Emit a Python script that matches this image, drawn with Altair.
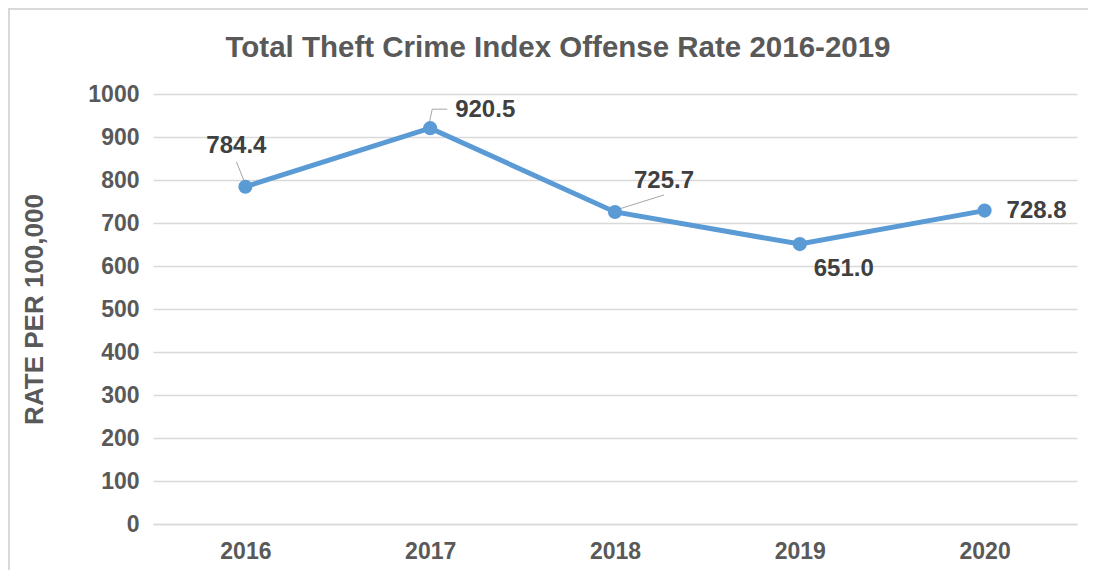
import altair as alt
import pandas as pd

years = ["2016", "2017", "2018", "2019", "2020"]
rates = [784.4, 920.5, 725.7, 651.0, 728.8]
label_text = ["784.4", "920.5", "725.7", "651.0", "728.8"]
y_ticks = [0, 100, 200, 300, 400, 500, 600, 700, 800, 900, 1000]

df = pd.DataFrame({"year": years, "rate": rates, "label": label_text})

FONT = "Liberation Sans"
LINE = "#5B9BD5"
GRID = "#d9d9d9"

xs = alt.Scale(type="point", padding=0.5)
x_enc = alt.X("year:N", sort=years, scale=xs,
              axis=alt.Axis(title=None, labelFont=FONT, labelFontSize=23,
                            labelFontWeight="bold", labelColor="#595959",
                            labelPadding=16, ticks=False, domain=True,
                            domainColor=GRID, domainWidth=1.5, grid=False,
                            labelAngle=0))
y_enc = alt.Y("rate:Q", scale=alt.Scale(domain=[0, 1000], nice=False),
              axis=alt.Axis(values=y_ticks, format="d", title="RATE PER 100,000",
                            titleFont=FONT, titleFontSize=26, titleFontWeight="bold",
                            titleColor="#595959", titlePadding=40,
                            labelFont=FONT, labelFontSize=23, labelFontWeight="bold",
                            labelColor="#595959", labelPadding=14,
                            ticks=False, domain=False, grid=True,
                            gridColor=GRID, gridWidth=1.5))

base = alt.Chart(df)
one = base.transform_filter(alt.datum.year == "2016")

border = one.mark_rect(fill="transparent", stroke=GRID, strokeWidth=2).encode(
    x=alt.value(-144), x2=alt.value(960), y=alt.value(-85), y2=alt.value(520))

line = base.mark_line(color=LINE, strokeWidth=5).encode(x=x_enc, y=y_enc)
points = base.mark_circle(color=LINE, opacity=1, size=200).encode(x=x_enc, y=y_enc)

label_offsets = {
    "2016": (-9, -41),
    "2017": (55, -18),
    "2018": (49, -31),
    "2019": (44, 25),
    "2020": (52, 0),
}
texts = []
for yr, (dx, dy) in label_offsets.items():
    texts.append(
        base.mark_text(font=FONT, fontSize=24, fontWeight="bold", color="#404040",
                       align="center", baseline="middle", dx=dx, dy=dy)
        .encode(x=alt.X("year:N", sort=years, scale=xs),
                y=alt.Y("rate:Q"), text="label:N")
        .transform_filter(alt.datum.year == yr)
    )

leaders_spec = [
    ("2016", -1, -5, -9, -25),
    ("2017", -1, -5, 2, -19),
    ("2017", 2, -19, 17, -19),
    ("2018", 1, -2, 49, -17),
]
leaders = []
for yr, xo, yo, x2o, y2o in leaders_spec:
    leaders.append(
        base.mark_rule(color="#a6a6a6", strokeWidth=1,
                       xOffset=xo, yOffset=yo, x2Offset=x2o, y2Offset=y2o)
        .encode(x=alt.X("year:N", sort=years, scale=xs),
                x2="year:N", y="rate:Q", y2="rate:Q")
        .transform_filter(alt.datum.year == yr)
    )

chart = alt.layer(border, line, *leaders, points, *texts).properties(
    width=924, height=430,
    autosize=alt.AutoSizeParams(type="none"),
    padding={"left": 145, "top": 86, "right": 11, "bottom": 46},
    title=alt.TitleParams(
        "Total Theft Crime Index Offense Rate 2016-2019",
        font=FONT, fontSize=29.5, fontWeight="bold", color="#595959",
        anchor="middle", dx=-57, offset=-55,
    ),
).configure(background="white").configure_view(stroke=None)

chart.save("out.html", embed_options={"renderer": "svg", "actions": False})
